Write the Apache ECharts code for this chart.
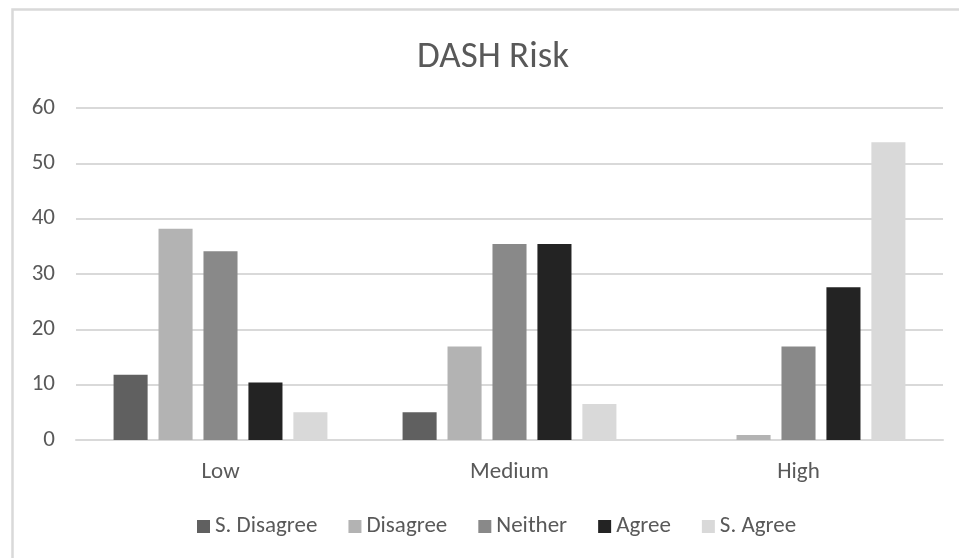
<!DOCTYPE html>
<html>
<head>
<meta charset="utf-8">
<script src="https://cdn.jsdelivr.net/npm/echarts@6/dist/echarts.min.js"></script>
<style>
html,body{margin:0;padding:0;background:#fff;}
#c{width:959px;height:558px;}
</style>
</head>
<body>
<div id="c"></div>
<script>
const categories = ['Low', 'Medium', 'High'];
const seriesNames = ['S. Disagree', 'Disagree', 'Neither', 'Agree', 'S. Agree'];
const sDisagree = [11.8, 5.0, 0];
const disagree = [38.2, 16.9, 0.9];
const neither = [34.1, 35.4, 16.9];
const agree = [10.4, 35.4, 27.6];
const sAgree = [5.0, 6.5, 53.8];
const yTicks = [0, 10, 20, 30, 40, 50, 60];

const colors = ['#606060', '#b3b3b3', '#898989', '#232323', '#d9d9d9'];
const values = [sDisagree, disagree, neither, agree, sAgree];
const FONT = 'Carlito, "Open Sans", sans-serif';
const TXT = '#595959';

const chart = echarts.init(document.getElementById('c'), null, {renderer: 'canvas'});
chart.setOption({
  backgroundColor: '#fff',
  animation: false,
  title: {
    text: 'DASH Risk',
    left: 488,
    textAlign: 'center',
    top: 34,
    textStyle: {fontFamily: FONT, fontSize: 37, fontWeight: 'normal', color: TXT}
  },
  graphic: [{
    type: 'rect',
    shape: {x: 12.5, y: 9.5, width: 1000, height: 600},
    style: {fill: 'none', stroke: '#d9d9d9', lineWidth: 2.5},
    silent: true
  }],
  legend: {
    data: seriesNames,
    left: 192,
    top: 510,
    itemWidth: 13,
    itemHeight: 13,
    itemGap: 31,
    icon: 'rect',
    textStyle: {fontFamily: FONT, fontSize: 23, color: TXT}
  },
  grid: {left: 76, right: 16, top: 108, bottom: 118, containLabel: false},
  xAxis: {
    type: 'category',
    data: categories,
    axisLine: {show: true, lineStyle: {color: '#d9d9d9', width: 2}},
    axisTick: {show: false},
    axisLabel: {fontFamily: FONT, fontSize: 23, color: TXT, margin: 21}
  },
  yAxis: {
    type: 'value',
    min: yTicks[0],
    max: yTicks[yTicks.length - 1],
    interval: 10,
    axisLine: {show: false},
    axisTick: {show: false},
    splitLine: {lineStyle: {color: '#d9d9d9', width: 2}},
    axisLabel: {fontFamily: FONT, fontSize: 23, color: TXT, margin: 21}
  },
  series: seriesNames.map((n, i) => ({
    name: n,
    type: 'bar',
    data: values[i],
    barGap: '32%',
    barCategoryGap: '26%',
    itemStyle: {color: colors[i]}
  }))
});
</script>
</body>
</html>
